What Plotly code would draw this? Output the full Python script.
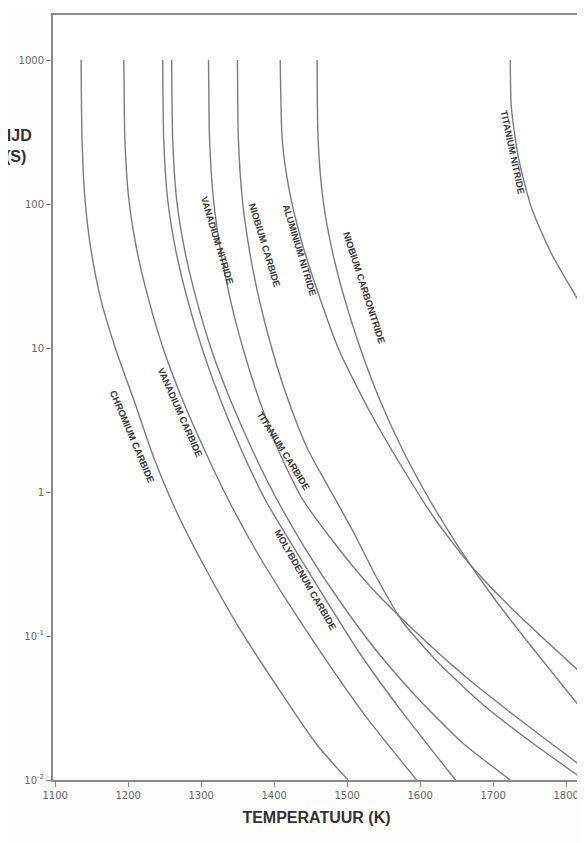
import math
import plotly.graph_objects as go

# ---- data (temperature K, time s) ----
cr_T = [1135.5, 1136.8, 1140.9, 1149.1, 1162.8, 1183.2, 1207.8, 1233.7, 1265.1, 1303.3, 1349.7, 1407.0, 1458.8, 1501.1]
cr_t = [1000, 278, 106.6, 47.9, 21.5, 9.69, 4.35, 1.81, 0.750, 0.311, 0.1192, 0.0422, 0.0175, 0.01]

vc_T = [1194.1, 1195.5, 1201.0, 1211.9, 1228.2, 1248.7, 1274.6, 1304.6, 1337.4, 1377.0, 1422.0, 1471.1, 1527.0, 1595.2]
vc_t = [1000, 278, 106.6, 47.9, 21.5, 9.69, 4.35, 1.957, 0.880, 0.377, 0.1616, 0.0681, 0.0270, 0.01]

moc_T = [1247.3, 1248.7, 1254.2, 1265.1, 1281.5, 1301.9, 1326.5, 1355.1, 1387.9, 1428.8, 1471.1, 1518.8, 1573.4, 1648.4]
moc_t = [1000, 278, 106.6, 47.9, 21.5, 9.69, 4.35, 1.957, 0.880, 0.3955, 0.1778, 0.0738, 0.0306, 0.01]

tic_T = [1259.6, 1261.0, 1266.4, 1277.4, 1293.7, 1314.2, 1340.1, 1370.1, 1404.2, 1443.8, 1488.8, 1539.3, 1595.2, 1656.6, 1723.5]
tic_t = [1000, 278, 106.6, 47.9, 21.5, 9.69, 4.35, 1.957, 0.880, 0.3955, 0.1778, 0.0799, 0.0377, 0.01836, 0.01]

vn_T = [1310.1, 1311.5, 1316.9, 1326.5, 1340.1, 1357.9, 1379.7, 1405.6, 1437.0, 1479.3, 1529.8, 1591.1, 1659.4, 1737.1, 1819.0]
vn_t = [1000, 278, 106.6, 47.9, 21.5, 9.69, 4.35, 1.957, 0.923, 0.464, 0.226, 0.110, 0.0536, 0.0261, 0.0127]

nbc_T = [1349.7, 1351.0, 1356.5, 1366.0, 1379.7, 1397.4, 1419.2, 1446.5, 1480.6, 1510.7, 1540.7, 1576.1, 1625.3, 1686.6, 1752.1, 1819.0]
nbc_t = [1000, 278, 106.6, 47.9, 21.5, 9.69, 4.35, 1.957, 0.953, 0.503, 0.2528, 0.1251, 0.0649, 0.0332, 0.01836, 0.01049]

aln_T = [1408.3, 1411.1, 1420.6, 1437.0, 1458.8, 1488.8, 1529.8, 1573.4, 1621.2, 1668.9, 1727.6, 1819.0]
aln_t = [1000, 278, 125.1, 56.2, 25.3, 9.69, 3.71, 1.54, 0.639, 0.311, 0.1516, 0.0562]

nbcn_T = [1458.8, 1460.2, 1467.0, 1479.3, 1497.0, 1518.8, 1544.8, 1576.1, 1613.0, 1655.3, 1703.0, 1756.2, 1819.0]
nbcn_t = [1000, 278, 106.6, 47.9, 21.5, 9.69, 4.35, 1.957, 0.880, 0.3955, 0.1778, 0.0799, 0.0321]

tin_T = [1723.5, 1724.9, 1734.4, 1752.1, 1779.4, 1819.0]
tin_t = [1000, 472, 212, 95.3, 45.7, 20.5]

names = ["CHROMIUM CARBIDE", "VANADIUM CARBIDE", "MOLYBDENUM CARBIDE", "TITANIUM CARBIDE",
         "VANADIUM NITRIDE", "NIOBIUM CARBIDE", "ALUMINIUM NITRIDE", "NIOBIUM CARBONITRIDE",
         "TITANIUM NITRIDE"]
series = [(cr_T, cr_t), (vc_T, vc_t), (moc_T, moc_t), (tic_T, tic_t), (vn_T, vn_t),
          (nbc_T, nbc_t), (aln_T, aln_t), (nbcn_T, nbcn_t), (tin_T, tin_t)]

x_ticks = [1100, 1200, 1300, 1400, 1500, 1600, 1700, 1800]
y_ticks = [0.01, 0.1, 1, 10, 100, 1000]
y_ticktext = ["10<sup>-2</sup>", "10<sup>-1</sup>", "1", "10", "100", "1000"]

# label placement (T, t, angle) - styling
label_pos = {
    "CHROMIUM CARBIDE": (1205.0, 2.41, 67),
    "VANADIUM CARBIDE": (1270.5, 3.6, 66),
    "VANADIUM NITRIDE": (1322.4, 56, 73),
    "NIOBIUM CARBIDE": (1386.5, 52, 73),
    "ALUMINIUM NITRIDE": (1434.3, 48, 73),
    "NIOBIUM CARBONITRIDE": (1524.3, 26.1, 72),
    "TITANIUM CARBIDE": (1412.4, 1.93, 58),
    "MOLYBDENUM CARBIDE": (1442.4, 0.245, 60),
    "TITANIUM NITRIDE": (1726.2, 230, 78),
}

W, H = 577, 835
L, R, Tm, B = 45, 3, 7, 63
pw, ph = W - L - R, H - Tm - B

fig = go.Figure()
for name, (T, t) in zip(names, series):
    fig.add_trace(go.Scatter(x=T, y=t, mode="lines", name=name,
                             line=dict(color="#7c7c7c", width=1.4, shape="spline", smoothing=0.6),
                             showlegend=False))

for name in names:
    x, y, ang = label_pos[name]
    fig.add_annotation(x=x, y=math.log10(y), xref="x", yref="y", text="<b>" + name + "</b>",
                       showarrow=False, textangle=ang,
                       font=dict(family="Liberation Sans", size=9.5, color="#3a3a3a"))

axis_common = dict(showline=True, linecolor="#8a8a8a", linewidth=2, mirror=True,
                   ticks="outside", ticklen=5, tickcolor="#8a8a8a", showgrid=False,
                   zeroline=False, tickfont=dict(family="DejaVu Sans", size=10, color="#666"))

fig.update_xaxes(range=[1097, 1819], tickvals=x_ticks, **axis_common,
                 title=dict(text="<b>TEMPERATUUR (K)</b>", standoff=12,
                            font=dict(family="Liberation Sans", size=16, color="#333")))
fig.update_yaxes(type="log", range=[-2, 3.3125], tickvals=y_ticks, ticktext=y_ticktext,
                 **axis_common)

# partly cut-off y-axis title, as in the scanned reference (positions in figure pixels)
for txt, fx, fy in [("<b>OPLOSTIJD</b>", 26, 127), ("<b>(S)</b>", 20, 148)]:
    fig.add_annotation(x=(fx - L) / pw, y=1 - (fy - Tm) / ph, xref="paper", yref="paper",
                       text=txt, showarrow=False, xanchor="right", yanchor="middle",
                       font=dict(family="Liberation Sans", size=16, color="#333"))

fig.update_layout(width=W, height=H, margin=dict(l=L, r=R, t=Tm, b=B),
                  paper_bgcolor="#fdfdfb", plot_bgcolor="#ffffff")

fig.write_html("out.html")
